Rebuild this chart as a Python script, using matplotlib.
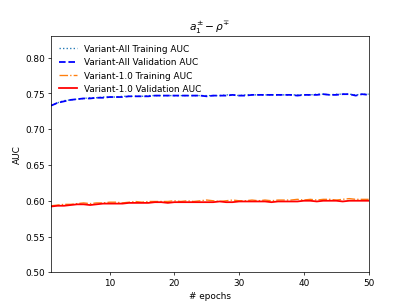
import matplotlib
matplotlib.use('Agg')
import matplotlib.pyplot as plt
import numpy as np

epochs = np.arange(1, 51)

all_train = [0.733, 0.737, 0.740, 0.741, 0.742, 0.743, 0.744, 0.744, 0.745, 0.745,
             0.745, 0.746, 0.746, 0.746, 0.746, 0.747, 0.747, 0.747, 0.747, 0.747,
             0.747, 0.747, 0.747, 0.747, 0.747, 0.747, 0.747, 0.748, 0.748, 0.747,
             0.748, 0.748, 0.748, 0.748, 0.748, 0.748, 0.748, 0.748, 0.748, 0.748,
             0.748, 0.749, 0.749, 0.748, 0.749, 0.749, 0.749, 0.748, 0.749, 0.749]
all_val = [0.733, 0.737, 0.739, 0.741, 0.742, 0.743, 0.743, 0.744, 0.744, 0.745,
           0.745, 0.745, 0.746, 0.746, 0.746, 0.746, 0.747, 0.747, 0.747, 0.747,
           0.747, 0.747, 0.747, 0.747, 0.746, 0.747, 0.747, 0.747, 0.748, 0.747,
           0.747, 0.748, 0.748, 0.748, 0.748, 0.748, 0.748, 0.748, 0.747, 0.748,
           0.748, 0.748, 0.749, 0.748, 0.748, 0.749, 0.749, 0.747, 0.749, 0.748]
v10_train = [0.593, 0.594, 0.595, 0.595, 0.596, 0.597, 0.596, 0.597, 0.597, 0.598,
             0.598, 0.597, 0.598, 0.599, 0.598, 0.599, 0.599, 0.599, 0.599, 0.600,
             0.599, 0.600, 0.599, 0.600, 0.601, 0.600, 0.599, 0.600, 0.601, 0.600,
             0.600, 0.601, 0.600, 0.601, 0.600, 0.601, 0.601, 0.601, 0.602, 0.601,
             0.602, 0.601, 0.602, 0.602, 0.601, 0.602, 0.603, 0.602, 0.602, 0.602]
v10_val = [0.592, 0.593, 0.593, 0.594, 0.595, 0.595, 0.594, 0.595, 0.596, 0.596,
           0.596, 0.596, 0.597, 0.597, 0.597, 0.597, 0.598, 0.598, 0.597, 0.598,
           0.598, 0.598, 0.598, 0.598, 0.598, 0.598, 0.599, 0.598, 0.598, 0.599,
           0.599, 0.599, 0.599, 0.599, 0.598, 0.599, 0.599, 0.599, 0.599, 0.600,
           0.600, 0.599, 0.600, 0.600, 0.600, 0.599, 0.600, 0.600, 0.600, 0.600]

fig = plt.figure(figsize=(6.4, 4.79), dpi=64)
ax = fig.add_subplot(111)
ax.plot(epochs, all_train, ':', color='C0', label='Variant-All Training AUC')
ax.plot(epochs, all_val, '--', color='b', lw=2, label='Variant-All Validation AUC')
ax.plot(epochs, v10_train, '-.', color='C1', label='Variant-1.0 Training AUC')
ax.plot(epochs, v10_val, '-', color='r', lw=2, label='Variant-1.0 Validation AUC')
ax.set_xlim(1, 50)
ax.set_ylim(0.5, 0.83)
ax.set_xlabel('# epochs')
ax.set_ylabel('AUC')
ax.set_title(r'$a_1^{\pm} - \rho^{\mp}$')
ax.legend(loc='upper left', frameon=False)
fig.savefig('out.png', dpi=64)
